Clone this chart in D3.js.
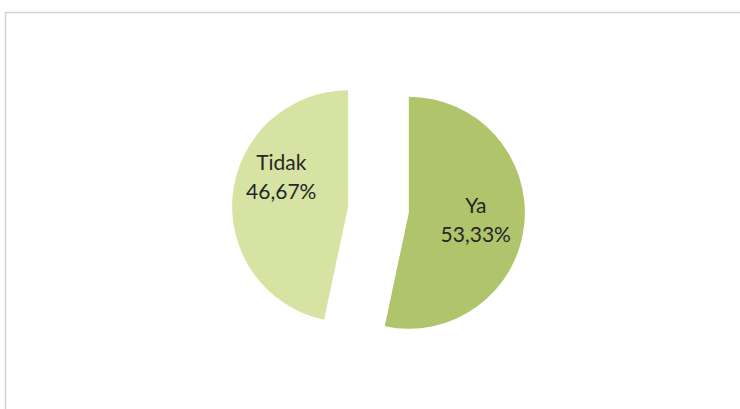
<!DOCTYPE html>
<meta charset="utf-8">
<style>
body { margin: 0; background: #fff; }
.label { font-family: Lato, "Open Sans", sans-serif; font-size: 21px; fill: #262626; }
</style>
<svg width="740" height="409"></svg>
<script src="https://cdnjs.cloudflare.com/ajax/libs/d3/7.8.5/d3.min.js"></script>
<script>

var categories = ["Ya", "Tidak"],
    values = [53.33, 46.67],
    percentLabels = ["53,33%", "46,67%"];

var colors = ["#afc46b", "#d6e3a2"];
// small vertical nudge of each label, px
var labelNudge = [0, -22];

var svg = d3.select("svg"),
    cx = 378.5, cy = 209.5,
    radius = 116,
    explode = 30.5;

svg.append("rect")
    .attr("x", 5.5)
    .attr("y", 12.5)
    .attr("width", 760)
    .attr("height", 420)
    .attr("fill", "none")
    .attr("stroke", "#d2d2d2")
    .attr("stroke-width", 1.5);

var pie = d3.pie().sort(null).value(function(d) { return d; });
var arc = d3.arc().innerRadius(0).outerRadius(radius);

var arcs = pie(values);

var g = svg.append("g")
    .attr("transform", "translate(" + cx + "," + cy + ")");

var slice = g.selectAll(".slice")
  .data(arcs)
  .enter().append("g")
    .attr("class", "slice")
    .attr("transform", function(d) {
      var a = (d.startAngle + d.endAngle) / 2;
      return "translate(" + (Math.sin(a) * explode) + "," + (-Math.cos(a) * explode) + ")";
    });

slice.append("path")
    .attr("d", arc)
    .attr("fill", function(d, i) { return colors[i]; });

var text = slice.append("text")
    .attr("class", "label")
    .attr("text-anchor", "middle")
    .attr("transform", function(d, i) {
      var a = (d.startAngle + d.endAngle) / 2,
          r = radius * 0.58;
      return "translate(" + (Math.sin(a) * r) + "," + (-Math.cos(a) * r + labelNudge[i]) + ")";
    });

text.append("tspan")
    .attr("x", 0)
    .attr("y", -7)
    .text(function(d, i) { return categories[i]; });

text.append("tspan")
    .attr("x", 0)
    .attr("y", 22)
    .text(function(d, i) { return percentLabels[i]; });

</script>
